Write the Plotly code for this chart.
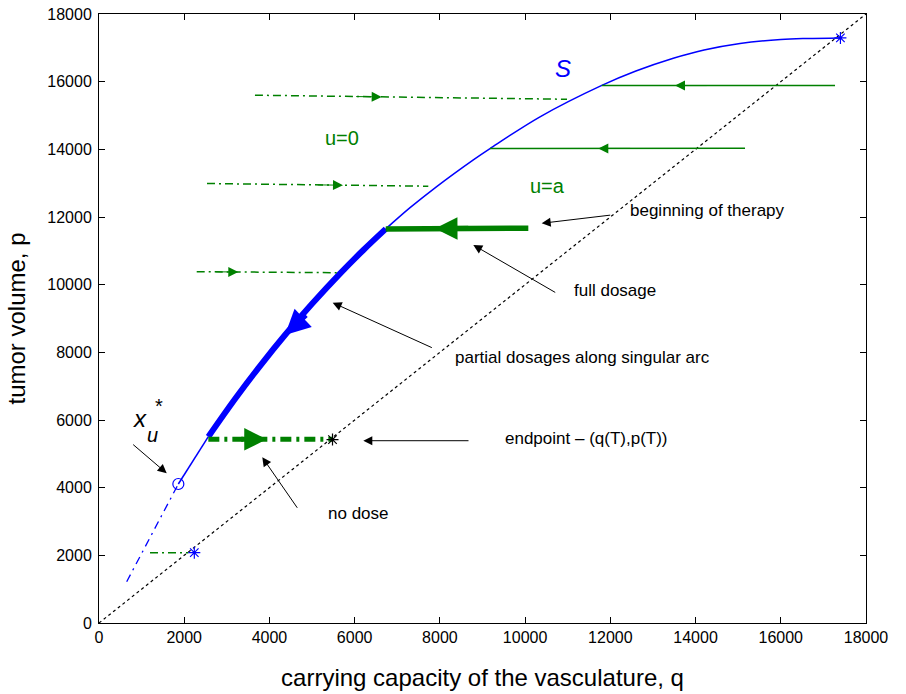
import plotly.graph_objects as go

# ---- data ----
# S curve (q, p)
s_q = [650, 1862, 2566, 3200, 3800, 4365, 5000, 5656, 6200, 6730, 7300, 7925,
       8785, 9176, 10349, 11800, 12600, 13478, 14200, 15043, 16000, 16607, 17400]
s_p = [1221, 4109, 5507, 6636, 7632, 8513, 9434, 10326, 11017, 11648, 12275, 12900,
       13690, 14023, 14961, 15890, 16314, 16692, 16937, 17131, 17246, 17276, 17292]

# u=0 trajectories (dash-dot, green)
u0_top_q = [3660, 10983]
u0_top_p = [15600, 15480]
u0_mid_q = [2535, 7728]
u0_mid_p = [12990, 12910]
u0_low_q = [2293, 5656]
u0_low_p = [10383, 10354]
u0_small_q = [1197, 2096]
u0_small_p = [2078, 2078]

# u=a trajectories (solid, green)
ua_top_q = [11800, 17273]
ua_top_p = [15885, 15885]
ua_mid_q = [9176, 15161]
ua_mid_p = [14023, 14031]

# optimal trajectory pieces
full_q = [6730, 10075]
full_p = [11648, 11670]
nodose_q = [2566, 5480]
nodose_p = [5430, 5430]

diag_q = [0, 18000]
diag_p = [0, 18000]

# special points
xu_q, xu_p = [1862], [4109]
star_blue_q = [17400, 2237]
star_blue_p = [17292, 2078]
end_q, end_p = [5480], [5420]

ticks = [0, 2000, 4000, 6000, 8000, 10000, 12000, 14000, 16000, 18000]
tick_text = [str(t) for t in ticks]

# direction arrows on trajectories: tip q, tip p, tail q, tail p, color, width, size
traj_arrows = [
    (6634, 15550, 6000, 15560, "green", 1, 2.0),
    (5726, 12940, 5100, 12950, "green", 1, 2.0),
    (3269, 10375, 2700, 10380, "green", 1, 2.0),
    (13518, 15885, 14300, 15885, "green", 1, 2.0),
    (11718, 14027, 12500, 14027, "green", 1, 2.0),
    (7885, 11660, 8700, 11665, "green", 5, 0.9),
    (3936, 5430, 3300, 5430, "green", 5, 0.9),
    (4365, 8513, 4893, 9142, "blue", 5, 1.0),
]

# labelled pointer arrows: tail q, tail p, tip q, tip p
pointers = [
    (12032, 12060, 10389, 11814),
    (10742, 9745, 8784, 11173),
    (7846, 8119, 5484, 9467),
    (8707, 5388, 6203, 5388),
    (4677, 3361, 3832, 4898),
    (767, 5311, 1589, 4425),
]

labels = [
    ("beginning of therapy", 12415, 12207),
    ("full dosage", 11100, 9813),
    ("partial dosages along singular arc", 8308, 7862),
    ("endpoint \u2013 (q(T),p(T))", 9481, 5468),
    ("no dose", 5327, 3251),
]

FONT = "Liberation Sans, Arial, sans-serif"
GREEN = "green"
BLUE = "blue"

fig = go.Figure()

def line(x, y, color, width, dash="solid", shape="linear"):
    fig.add_trace(go.Scatter(x=x, y=y, mode="lines", showlegend=False,
                             hoverinfo="skip",
                             line=dict(color=color, width=width, dash=dash, shape=shape)))

# diagonal
line(diag_q, diag_p, "black", 1.2, "dot")

# S curve pieces
line(s_q[0:2], s_p[0:2], BLUE, 1.3, "8px,5px,2px,5px")
line(s_q[1:3], s_p[1:3], BLUE, 1.5)
line(s_q[2:10], s_p[2:10], BLUE, 6, shape="spline")
line(s_q[9:], s_p[9:], BLUE, 1.5, shape="spline")

# u=0 trajectories
dd = "8px,4px,2px,4px"
line(u0_top_q, u0_top_p, GREEN, 1.5, dd)
line(u0_mid_q, u0_mid_p, GREEN, 1.5, dd)
line(u0_low_q, u0_low_p, GREEN, 1.5, dd)
line(u0_small_q, u0_small_p, GREEN, 1.5, dd)

# u=a trajectories
line(ua_top_q, ua_top_p, GREEN, 1.5)
line(ua_mid_q, ua_mid_p, GREEN, 1.5)

# optimal pieces
line(full_q, full_p, GREEN, 5.5)
line(nodose_q, nodose_p, GREEN, 5, "11px,5px,3px,5px")

# markers
fig.add_trace(go.Scatter(x=xu_q, y=xu_p, mode="markers", showlegend=False,
                         marker=dict(symbol="circle-open", size=11, color=BLUE,
                                     line=dict(width=1.2, color=BLUE))))
fig.add_trace(go.Scatter(x=star_blue_q, y=star_blue_p, mode="markers", showlegend=False,
                         marker=dict(symbol="asterisk-open", size=10, color=BLUE,
                                     line=dict(width=1.2, color=BLUE))))
fig.add_trace(go.Scatter(x=end_q, y=end_p, mode="markers", showlegend=False,
                         marker=dict(symbol="asterisk-open", size=10, color="black",
                                     line=dict(width=1.2, color="black"))))

ann = []
for tq, tp, aq, ap, col, w, sz in traj_arrows:
    ann.append(dict(x=tq, y=tp, ax=aq, ay=ap, xref="x", yref="y", axref="x", ayref="y",
                    text="", showarrow=True, arrowhead=2, arrowwidth=w, arrowsize=sz,
                    arrowcolor=col))
for aq, ap, tq, tp in pointers:
    ann.append(dict(x=tq, y=tp, ax=aq, ay=ap, xref="x", yref="y", axref="x", ayref="y",
                    text="", showarrow=True, arrowhead=2, arrowwidth=1, arrowsize=1.8,
                    arrowcolor="black"))
for txt, q, p in labels:
    ann.append(dict(x=q, y=p, xref="x", yref="y", text=txt, showarrow=False,
                    xanchor="left", yanchor="middle",
                    font=dict(family=FONT, size=17, color="black")))

ann.append(dict(x=10889, y=16404, text="<i>S</i>", showarrow=False, xref="x", yref="y",
                font=dict(family=FONT, size=24, color=BLUE)))
ann.append(dict(x=5703, y=14335, text="u=0", showarrow=False, xref="x", yref="y",
                font=dict(family=FONT, size=20, color=GREEN)))
ann.append(dict(x=10537, y=12916, text="u=a", showarrow=False, xref="x", yref="y",
                font=dict(family=FONT, size=20, color=GREEN)))
ann.append(dict(x=962, y=6059, text="<i>x</i>", showarrow=False, xref="x", yref="y",
                font=dict(family=FONT, size=24, color="black")))
ann.append(dict(x=1244, y=5560, text="<i>u</i>", showarrow=False, xref="x", yref="y",
                font=dict(family=FONT, size=20, color="black")))
ann.append(dict(x=1400, y=6420, text="*", showarrow=False, xref="x", yref="y",
                font=dict(family=FONT, size=20, color="black")))

axis_common = dict(range=[0, 18000], tickvals=ticks, ticktext=tick_text,
                   ticks="inside", ticklen=6, tickcolor="black", tickwidth=1,
                   showline=True, linecolor="black", linewidth=1, mirror="ticks",
                   showgrid=False, zeroline=False, automargin=False,
                   tickfont=dict(family=FONT, size=16, color="black"))

fig.update_layout(
    width=906, height=694,
    margin=dict(l=99, r=40, t=14, b=71),
    plot_bgcolor="white", paper_bgcolor="white",
    xaxis=dict(**axis_common,
               title=dict(text="carrying capacity of the vasculature, q",
                          font=dict(family=FONT, size=24, color="black"), standoff=23)),
    yaxis=dict(**axis_common, ticklabelstandoff=3,
               title=dict(text="tumor volume, p",
                          font=dict(family=FONT, size=24, color="black"), standoff=14)),
    annotations=ann,
)

fig.write_html("out.html", config={"displayModeBar": False},
               post_script="document.body.style.margin='0';"
                           "document.body.style.overflow='hidden';")
